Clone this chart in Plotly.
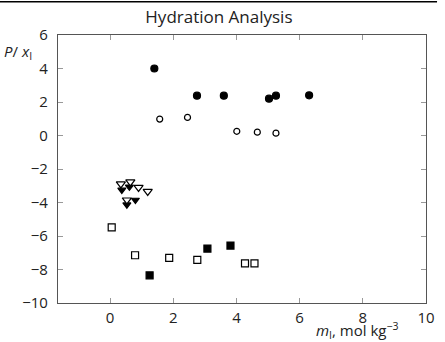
import plotly.graph_objects as go

# Filled circles
fc_x = [1.4, 2.75, 3.6, 5.03, 5.25, 6.3]
fc_y = [4.0, 2.38, 2.38, 2.2, 2.38, 2.4]
# Open circles
oc_x = [1.57, 2.45, 4.01, 4.66, 5.25]
oc_y = [0.98, 1.08, 0.25, 0.2, 0.14]
# Open down triangles
ot_x = [0.34, 0.64, 0.9, 1.19, 0.53]
ot_y = [-2.89, -2.77, -3.1, -3.34, -3.85]
# Filled down triangles
ft_x = [0.37, 0.61, 0.53, 0.8]
ft_y = [-3.25, -3.06, -4.13, -3.85]
# Open squares
os_x = [0.05, 0.79, 1.87, 2.76, 4.27, 4.57]
os_y = [-5.49, -7.15, -7.31, -7.43, -7.63, -7.63]
# Filled squares
fs_x = [1.25, 3.08, 3.81]
fs_y = [-8.35, -6.75, -6.57]

x_ticks = [0, 2, 4, 6, 8, 10]
y_ticks = [-10, -8, -6, -4, -2, 0, 2, 4, 6]

fig = go.Figure()

def add(x, y, symbol, size, fill, lw=1.2):
    fig.add_trace(go.Scatter(
        x=x, y=y, mode="markers",
        marker=dict(symbol=symbol, size=size,
                    color="black" if fill else "white",
                    line=dict(color="black", width=lw)),
        showlegend=False))

add(oc_x, oc_y, "circle", 6, False)
add(fc_x, fc_y, "circle", 7, True)
add(os_x, os_y, "square", 7, False)
add(fs_x, fs_y, "square", 7, True)
add(ft_x, ft_y, "triangle-down", 7, True)
add(ot_x, ot_y, "triangle-down", 8, False)

axis_common = dict(
    showgrid=False, zeroline=False, showline=True, linecolor="#555",
    linewidth=1.2, mirror="ticks", ticks="inside", ticklen=5,
    tickcolor="#999", tickwidth=1,
    tickfont=dict(family="Open Sans", size=15, color="#222"),
)

fig.update_layout(
    width=445, height=342,
    margin=dict(l=58, r=10, t=35, b=39),
    paper_bgcolor="white", plot_bgcolor="white",
    title=dict(text="Hydration Analysis", x=0.492, xanchor="center",
               y=0.95, yanchor="middle",
               font=dict(family="Open Sans", size=17, color="#222")),
    xaxis=dict(range=[-1.65, 10], tickvals=x_ticks, ticklabelstandoff=1, **axis_common),
    yaxis=dict(range=[-10, 6], tickvals=y_ticks, ticklabelstandoff=6, **axis_common),
)

fig.add_annotation(
    text="<i>P</i>/<i> x</i><sub>I</sub>", xref="paper", yref="paper",
    x=-0.065, y=0.935, xanchor="right", yanchor="middle", showarrow=False,
    font=dict(family="Open Sans", size=15, color="#222"))
fig.add_annotation(
    text="<i>m</i><sub>I</sub>, mol kg<sup>−3</sup>", xref="paper", yref="paper",
    x=0.812, y=-0.052, xanchor="center", yanchor="top", showarrow=False,
    font=dict(family="Open Sans", size=15, color="#222"))

fig.add_shape(type="line", xref="paper", yref="paper",
              x0=-0.16, x1=1.03, y0=1.124, y1=1.124,
              line=dict(color="black", width=1.5))

fig.write_html("out.html", config={"displayModeBar": False})

with open("out.html", "r", encoding="utf-8") as f:
    html = f.read()
html = html.replace("<head>", "<head><style>html,body{margin:0;padding:0;overflow:hidden;}</style>", 1)
with open("out.html", "w", encoding="utf-8") as f:
    f.write(html)
